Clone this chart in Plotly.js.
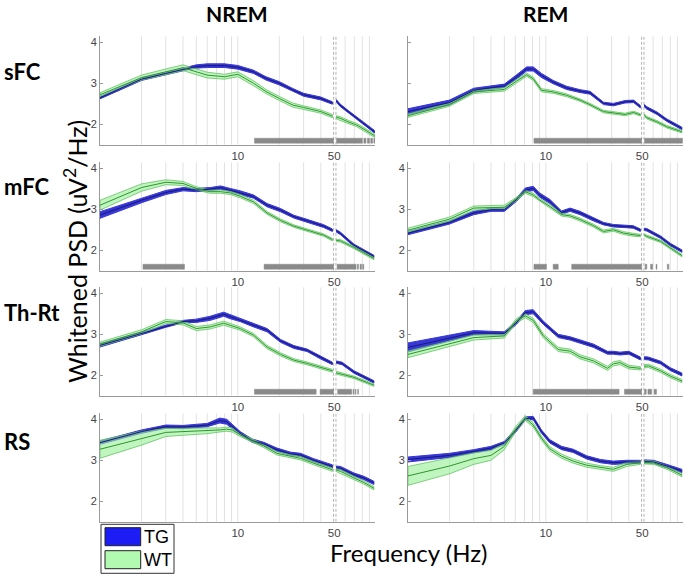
<!DOCTYPE html>
<html><head><meta charset="utf-8">
<script src="https://cdn.plot.ly/plotly-3.0.1.min.js"></script>
<style>html,body{margin:0;padding:0;background:#fff}#chart{width:685px;height:582px}</style>
</head><body><div id="chart"></div>
<script>
// ---------- DATA ----------
const colTitles = ["NREM", "REM"];
const rowTitles = ["sFC", "mFC", "Th-Rt", "RS"];
const yTicks = [2, 3, 4];
const xLabelTicks = [10, 50];
const xGridFreqs = [2,3,4,5,6,7,8,9,10,20,30,40,60,70,80,90];
const notchLines = [49.5, 51.5];
const legendLabels = ["TG", "WT"];

// NREM sFC
const p1_f   = [1,2,3,4,5,6,8,10,13,16,20,25,30,40,48.5,52,55,63,73,85,98];
const p1_tg  = [2.65,3.10,3.24,3.34,3.41,3.43,3.43,3.39,3.28,3.12,3.00,2.84,2.72,2.63,2.52,2.57,2.47,2.31,2.15,1.98,1.82];
const p1_tgS = [0.03,0.03,0.03,0.035,0.04,0.045,0.045,0.045,0.04,0.04,0.04,0.035,0.035,0.035,0.03,0.03,0.03,0.03,0.03,0.03,0.03];
const p1_wt  = [2.72,3.14,3.28,3.38,3.28,3.20,3.16,3.22,3.00,2.80,2.63,2.47,2.41,2.31,2.20,2.17,2.15,2.06,1.98,1.85,1.72];
const p1_wtS = [0.05,0.06,0.07,0.07,0.07,0.07,0.06,0.06,0.06,0.05,0.05,0.05,0.04,0.04,0.04,0.04,0.04,0.04,0.04,0.04,0.04];
const p1_sig = [[13.2,49.5],[52,80],[82,85],[87,90],[92,95],[97,99]];

// REM sFC
const p2_f   = [1,2,3,5,6.1,7.25,8.1,9.3,11.3,14.1,17.7,20.9,26.2,30.9,37.6,43.3,48.5,52,54,64,75.5,97];
const p2_tg  = [2.31,2.53,2.83,2.94,3.15,3.35,3.35,3.19,3.03,2.89,2.81,2.77,2.51,2.48,2.55,2.56,2.43,2.45,2.40,2.27,2.10,1.90];
const p2_tgS = [0.07,0.06,0.05,0.04,0.05,0.05,0.05,0.05,0.04,0.04,0.035,0.035,0.03,0.03,0.03,0.03,0.03,0.03,0.03,0.03,0.03,0.03];
const p2_wt  = [2.21,2.48,2.79,2.85,3.05,3.21,3.11,2.83,2.79,2.71,2.59,2.48,2.31,2.27,2.24,2.29,2.23,2.22,2.16,2.06,1.94,1.82];
const p2_wtS = [0.04,0.04,0.04,0.04,0.04,0.04,0.04,0.04,0.035,0.035,0.03,0.03,0.03,0.03,0.03,0.03,0.03,0.03,0.03,0.03,0.03,0.03];
const p2_sig = [[8.2,49.5],[52,98]];

// NREM mFC
const p3_f   = [1,2,3,4,5,6.3,7.5,8.8,10.4,13,16.3,20.4,25.5,31.8,42,48.5,52,55.6,69.6,97];
const p3_tg  = [2.86,3.22,3.41,3.49,3.47,3.49,3.53,3.47,3.41,3.31,3.10,2.98,2.82,2.72,2.59,2.49,2.47,2.41,2.12,1.85];
const p3_tgS = [0.08,0.06,0.05,0.04,0.04,0.04,0.04,0.04,0.04,0.04,0.04,0.04,0.035,0.035,0.035,0.03,0.03,0.03,0.03,0.03];
const p3_wt  = [3.10,3.53,3.66,3.63,3.51,3.43,3.43,3.40,3.32,3.18,2.91,2.73,2.59,2.49,2.37,2.26,2.24,2.23,2.07,1.80];
const p3_wtS = [0.12,0.09,0.06,0.05,0.04,0.04,0.04,0.04,0.04,0.04,0.035,0.035,0.03,0.03,0.03,0.03,0.03,0.03,0.03,0.03];
const p3_sig = [[2.05,4.1],[15.5,49.5],[52.5,72],[73.5,75],[77,79],[80.5,82]];

// REM mFC
const p4_f   = [1,2,3,4,5,6.1,7.1,8.1,9,10.7,13,15,17.7,22.2,26.2,30.9,36.6,43,48.5,52,54,68,80,97];
const p4_tg  = [2.42,2.68,2.91,2.99,2.99,3.23,3.47,3.51,3.35,3.19,2.92,2.99,2.91,2.75,2.65,2.60,2.58,2.57,2.49,2.51,2.50,2.32,2.14,1.98];
const p4_tgS = [0.04,0.04,0.04,0.04,0.04,0.04,0.05,0.05,0.05,0.05,0.04,0.04,0.04,0.035,0.03,0.03,0.03,0.03,0.03,0.03,0.03,0.03,0.03,0.03];
const p4_wt  = [2.49,2.76,3.03,3.05,3.05,3.25,3.43,3.35,3.23,3.07,2.87,2.84,2.75,2.60,2.46,2.50,2.42,2.38,2.36,2.37,2.34,2.22,2.06,1.87];
const p4_wtS = [0.05,0.05,0.05,0.05,0.05,0.04,0.04,0.04,0.04,0.04,0.035,0.035,0.035,0.035,0.035,0.035,0.035,0.035,0.03,0.03,0.03,0.03,0.03,0.03];
const p4_sig = [[8.2,10.1],[11.3,12.3],[15.4,49.5],[52.5,54],[57.5,59.5],[63,64],[76,78]];

// NREM Th-Rt
const p5_f   = [1,2,3,4,5,6.3,7.9,8.8,10.4,13,16.3,20.4,25.5,31.8,39.8,48.5,52,57,69.6,97];
const p5_tg  = [2.73,3.02,3.20,3.31,3.33,3.39,3.49,3.43,3.35,3.22,3.10,2.84,2.69,2.61,2.43,2.29,2.32,2.29,2.08,1.84];
const p5_tgS = [0.04,0.03,0.03,0.03,0.04,0.05,0.05,0.05,0.04,0.04,0.04,0.035,0.035,0.03,0.03,0.03,0.03,0.03,0.03,0.03];
const p5_wt  = [2.76,3.06,3.31,3.28,3.14,3.18,3.27,3.22,3.14,2.98,2.69,2.51,2.37,2.29,2.20,2.11,2.06,2.03,1.95,1.76];
const p5_wtS = [0.05,0.05,0.05,0.05,0.05,0.05,0.05,0.05,0.04,0.04,0.04,0.04,0.035,0.035,0.035,0.035,0.035,0.03,0.03,0.03];
const p5_sig = [[13.2,37],[39.5,49.5],[53,67],[68.5,69.5],[71,72],[74,75]];

// REM Th-Rt
const p6_f   = [1,3,5,6.1,7.1,8.1,9.6,12.3,15,17.7,22.2,28,30.9,34.5,40,48.5,52,55.5,68,80,97];
const p6_tg  = [2.68,3.04,3.02,3.28,3.53,3.55,3.28,2.96,2.90,2.82,2.72,2.55,2.55,2.53,2.55,2.41,2.42,2.41,2.31,2.15,2.02];
const p6_tgS = [0.11,0.05,0.04,0.04,0.05,0.05,0.04,0.04,0.04,0.04,0.04,0.035,0.035,0.035,0.035,0.035,0.035,0.035,0.035,0.035,0.035];
const p6_wt  = [2.51,2.92,2.96,3.33,3.45,3.34,2.96,2.63,2.59,2.45,2.35,2.17,2.28,2.31,2.20,2.17,2.22,2.23,2.11,1.98,1.86];
const p6_wtS = [0.08,0.06,0.05,0.05,0.05,0.05,0.05,0.05,0.05,0.05,0.05,0.05,0.05,0.05,0.045,0.04,0.04,0.04,0.04,0.04,0.04];
const p6_sig = [[8.1,34],[37.2,49.5],[52,53.5],[55,58.5],[61,63.5]];

// NREM RS
const p7_f   = [1,2,3,4,6,7.4,8.3,9.1,10.4,12.7,15.4,19.2,24,28.5,35.5,44.6,48.5,52,55.6,69.6,82,97];
const p7_tg  = [3.43,3.70,3.82,3.81,3.86,3.97,3.94,3.82,3.66,3.48,3.40,3.26,3.16,3.13,3.00,2.89,2.85,2.82,2.81,2.65,2.57,2.45];
const p7_tgS = [0.04,0.04,0.04,0.04,0.04,0.06,0.06,0.05,0.04,0.04,0.04,0.04,0.04,0.04,0.04,0.04,0.04,0.04,0.04,0.04,0.04,0.04];
const p7_wt  = [3.27,3.54,3.68,3.70,3.72,3.74,3.76,3.74,3.62,3.48,3.35,3.17,3.11,3.05,2.93,2.81,2.77,2.76,2.73,2.57,2.46,2.32];
const p7_wtS = [0.22,0.17,0.10,0.09,0.07,0.05,0.05,0.05,0.04,0.04,0.04,0.04,0.04,0.04,0.04,0.04,0.04,0.04,0.04,0.04,0.04,0.04];
const p7_sig = [];

// REM RS
const p8_f   = [1,2,3,4,5,6.1,7.1,8.1,9.3,10.7,13,15.8,19.8,24.9,30.9,38.7,48.5,52,60.5,75.5,97];
const p8_tg  = [3.02,3.12,3.22,3.30,3.42,3.74,4.02,4.03,3.70,3.46,3.30,3.23,3.07,2.98,2.94,2.96,2.96,2.97,2.96,2.86,2.74];
const p8_tgS = [0.06,0.05,0.04,0.04,0.04,0.04,0.04,0.04,0.04,0.04,0.04,0.04,0.04,0.04,0.04,0.04,0.04,0.04,0.04,0.04,0.04];
const p8_wt  = [2.62,2.86,3.04,3.12,3.34,3.78,4.03,3.86,3.54,3.28,3.10,2.98,2.88,2.82,2.78,2.90,2.94,2.95,2.94,2.82,2.64];
const p8_wtS = [0.23,0.19,0.14,0.12,0.08,0.06,0.06,0.05,0.05,0.05,0.05,0.05,0.05,0.05,0.05,0.05,0.04,0.04,0.04,0.04,0.04];
const p8_sig = [];

// ---------- BUILD ----------
const panels = [
  {f:p1_f, tg:p1_tg, tgS:p1_tgS, wt:p1_wt, wtS:p1_wtS, sig:p1_sig},
  {f:p2_f, tg:p2_tg, tgS:p2_tgS, wt:p2_wt, wtS:p2_wtS, sig:p2_sig},
  {f:p3_f, tg:p3_tg, tgS:p3_tgS, wt:p3_wt, wtS:p3_wtS, sig:p3_sig},
  {f:p4_f, tg:p4_tg, tgS:p4_tgS, wt:p4_wt, wtS:p4_wtS, sig:p4_sig},
  {f:p5_f, tg:p5_tg, tgS:p5_tgS, wt:p5_wt, wtS:p5_wtS, sig:p5_sig},
  {f:p6_f, tg:p6_tg, tgS:p6_tgS, wt:p6_wt, wtS:p6_wtS, sig:p6_sig},
  {f:p7_f, tg:p7_tg, tgS:p7_tgS, wt:p7_wt, wtS:p7_wtS, sig:p7_sig},
  {f:p8_f, tg:p8_tg, tgS:p8_tgS, wt:p8_wt, wtS:p8_wtS, sig:p8_sig}
];

const W = 685, H = 582;
const xDom = [[100/W, 375/W], [408/W, 683/W]];
const rowTop = [36.15, 162.15, 287.15, 413.15];
const rowBot = [144.8, 270.8, 395.8, 521.8];
const Y_RANGE = [1.5, 4.15];
const X_RANGE = [0, 1.995];
const SIG_Y = [1.54, 1.66];

const TG_FILL = 'rgb(55,55,215)';
const TG_LINE = 'rgb(25,25,120)';
const WT_FILL = 'rgba(150,238,150,0.6)';
const WT_EDGE = 'rgb(100,195,100)';
const WT_LINE = 'rgb(45,150,45)';
const CAL = 'Lato, "Open Sans", sans-serif';

function segIdx(f) {
  const idx = f.map((v, i) => i);
  return [idx.filter(i => f[i] < 50), idx.filter(i => f[i] > 50)].filter(s => s.length);
}
function bandXY(f, m, s) {
  const xs = [], ys = [];
  segIdx(f).forEach((idx, k) => {
    if (k > 0) { xs.push(null); ys.push(null); }
    idx.forEach(i => { xs.push(f[i]); ys.push(m[i] + s[i]); });
    idx.slice().reverse().forEach(i => { xs.push(f[i]); ys.push(m[i] - s[i]); });
    xs.push(f[idx[0]]); ys.push(m[idx[0]] + s[idx[0]]);
  });
  return {xs, ys};
}
function lineXY(f, m) {
  const xs = [], ys = [];
  segIdx(f).forEach((idx, k) => {
    if (k > 0) { xs.push(null); ys.push(null); }
    idx.forEach(i => { xs.push(f[i]); ys.push(m[i]); });
  });
  return {xs, ys};
}
function vlines(vals) {
  const xs = [], ys = [];
  vals.forEach((v, k) => { if (k) { xs.push(null); ys.push(null); } xs.push(v, v); ys.push(Y_RANGE[0], Y_RANGE[1]); });
  return {xs, ys};
}

const traces = [];
const layout = {
  width: W, height: H,
  margin: {l: 0, r: 0, t: 0, b: 0},
  paper_bgcolor: '#fff', plot_bgcolor: '#fff',
  showlegend: false,
  annotations: [], shapes: []
};

panels.forEach((p, i) => {
  const row = Math.floor(i / 2), col = i % 2;
  const n = i === 0 ? '' : String(i + 1);
  const xa = 'x' + n, ya = 'y' + n;
  layout['xaxis' + n] = {
    type: 'log', range: X_RANGE, domain: xDom[col], anchor: ya,
    tickmode: 'array', tickvals: xLabelTicks, ticktext: xLabelTicks.map(String),
    showgrid: false, showline: true, linecolor: '#9a9a9a', linewidth: 1, mirror: false,
    ticks: '', zeroline: false, fixedrange: true,
    tickfont: {family: 'Liberation Sans, Arial, sans-serif', size: 11.5, color: '#444'}
  };
  layout['yaxis' + n] = {
    range: Y_RANGE, domain: [1 - rowBot[row] / H, 1 - rowTop[row] / H], anchor: xa,
    tickmode: 'array', tickvals: yTicks, showgrid: false, zeroline: false,
    showline: true, linecolor: '#9a9a9a', linewidth: 1,
    ticks: 'inside', ticklen: 3, tickcolor: '#9a9a9a',
    showticklabels: !(row === 0 && col === 1), fixedrange: true,
    tickfont: {family: 'Liberation Sans, Arial, sans-serif', size: 11, color: '#444'}
  };
  const g = vlines(xGridFreqs);
  traces.push({x: g.xs, y: g.ys, xaxis: xa, yaxis: ya, mode: 'lines', hoverinfo: 'skip',
    line: {color: '#e2e2e2', width: 1}});
  const nl = vlines(notchLines);
  traces.push({x: nl.xs, y: nl.ys, xaxis: xa, yaxis: ya, mode: 'lines', hoverinfo: 'skip',
    line: {color: '#b5b5b5', width: 1, dash: '3px,2px'}});
  if (p.sig.length) {
    const sx = [], sy = [];
    p.sig.forEach((s, k) => {
      if (k) { sx.push(null); sy.push(null); }
      sx.push(s[0], s[1], s[1], s[0], s[0]);
      sy.push(SIG_Y[0], SIG_Y[0], SIG_Y[1], SIG_Y[1], SIG_Y[0]);
    });
    traces.push({x: sx, y: sy, xaxis: xa, yaxis: ya, mode: 'lines', fill: 'toself',
      fillcolor: '#8a8a8a', line: {color: '#8a8a8a', width: 0.5}, hoverinfo: 'skip'});
  }
  const tb = bandXY(p.f, p.tg, p.tgS);
  traces.push({x: tb.xs, y: tb.ys, xaxis: xa, yaxis: ya, mode: 'lines', fill: 'toself',
    fillcolor: TG_FILL, line: {color: TG_FILL, width: 1}, hoverinfo: 'skip'});
  const wb = bandXY(p.f, p.wt, p.wtS);
  traces.push({x: wb.xs, y: wb.ys, xaxis: xa, yaxis: ya, mode: 'lines', fill: 'toself',
    fillcolor: WT_FILL, line: {color: WT_EDGE, width: 0.8}, hoverinfo: 'skip'});
  const tl = lineXY(p.f, p.tg);
  traces.push({x: tl.xs, y: tl.ys, xaxis: xa, yaxis: ya, mode: 'lines',
    line: {color: TG_LINE, width: 1}, hoverinfo: 'skip'});
  const wl = lineXY(p.f, p.wt);
  traces.push({x: wl.xs, y: wl.ys, xaxis: xa, yaxis: ya, mode: 'lines',
    line: {color: WT_LINE, width: 1}, hoverinfo: 'skip'});
});

const A = layout.annotations;
const titleFont = {family: CAL, size: 21, color: '#000'};
A.push({text: '<b>' + colTitles[0] + '</b>', x: 237/W, y: 1 - 13/H, xref: 'paper', yref: 'paper', showarrow: false, xanchor: 'center', yanchor: 'middle', font: titleFont});
A.push({text: '<b>' + colTitles[1] + '</b>', x: 545/W, y: 1 - 13/H, xref: 'paper', yref: 'paper', showarrow: false, xanchor: 'center', yanchor: 'middle', font: titleFont});
const rowY = [71, 187, 312, 441];
rowTitles.forEach((t, r) => {
  A.push({text: '<b>' + t + '</b>', x: 2/W, y: 1 - rowY[r]/H, xref: 'paper', yref: 'paper', showarrow: false,
    xanchor: 'left', yanchor: 'middle', font: {family: CAL, size: 22, color: '#000'}});
});
A.push({text: 'Whitened PSD (uV<sup>2</sup>/Hz)', x: 75/W, y: 1 - 252/H, xref: 'paper', yref: 'paper', showarrow: false,
  xanchor: 'center', yanchor: 'middle', textangle: -90, font: {family: CAL, size: 25, color: '#000'}});
A.push({text: 'Frequency (Hz)', x: 408/W, y: 1 - 552/H, xref: 'paper', yref: 'paper', showarrow: false,
  xanchor: 'center', yanchor: 'middle', font: {family: CAL, size: 24, color: '#000'}});
// legend
const S = layout.shapes;
S.push({type: 'rect', xref: 'paper', yref: 'paper', x0: 101/W, x1: 174/W, y0: 1 - 573.3/H, y1: 1 - 524.3/H,
  line: {color: '#333', width: 1}, fillcolor: '#fff'});
S.push({type: 'rect', xref: 'paper', yref: 'paper', x0: 105/W, x1: 140.7/W, y0: 1 - 545.7/H, y1: 1 - 527.7/H,
  line: {color: '#222', width: 1}, fillcolor: 'rgb(28,28,245)'});
S.push({type: 'rect', xref: 'paper', yref: 'paper', x0: 105/W, x1: 140.7/W, y0: 1 - 568.7/H, y1: 1 - 550.7/H,
  line: {color: '#222', width: 1}, fillcolor: 'rgb(178,250,178)'});
A.push({text: legendLabels[0], x: 142/W, y: 1 - 537/H, xref: 'paper', yref: 'paper', showarrow: false, xanchor: 'left', yanchor: 'middle',
  font: {family: 'Liberation Sans, Arial, sans-serif', size: 18, color: '#000'}});
A.push({text: legendLabels[1], x: 142/W, y: 1 - 560/H, xref: 'paper', yref: 'paper', showarrow: false, xanchor: 'left', yanchor: 'middle',
  font: {family: 'Liberation Sans, Arial, sans-serif', size: 18, color: '#000'}});

Plotly.newPlot('chart', traces, layout, {staticPlot: true, displayModeBar: false});
</script></body></html>
